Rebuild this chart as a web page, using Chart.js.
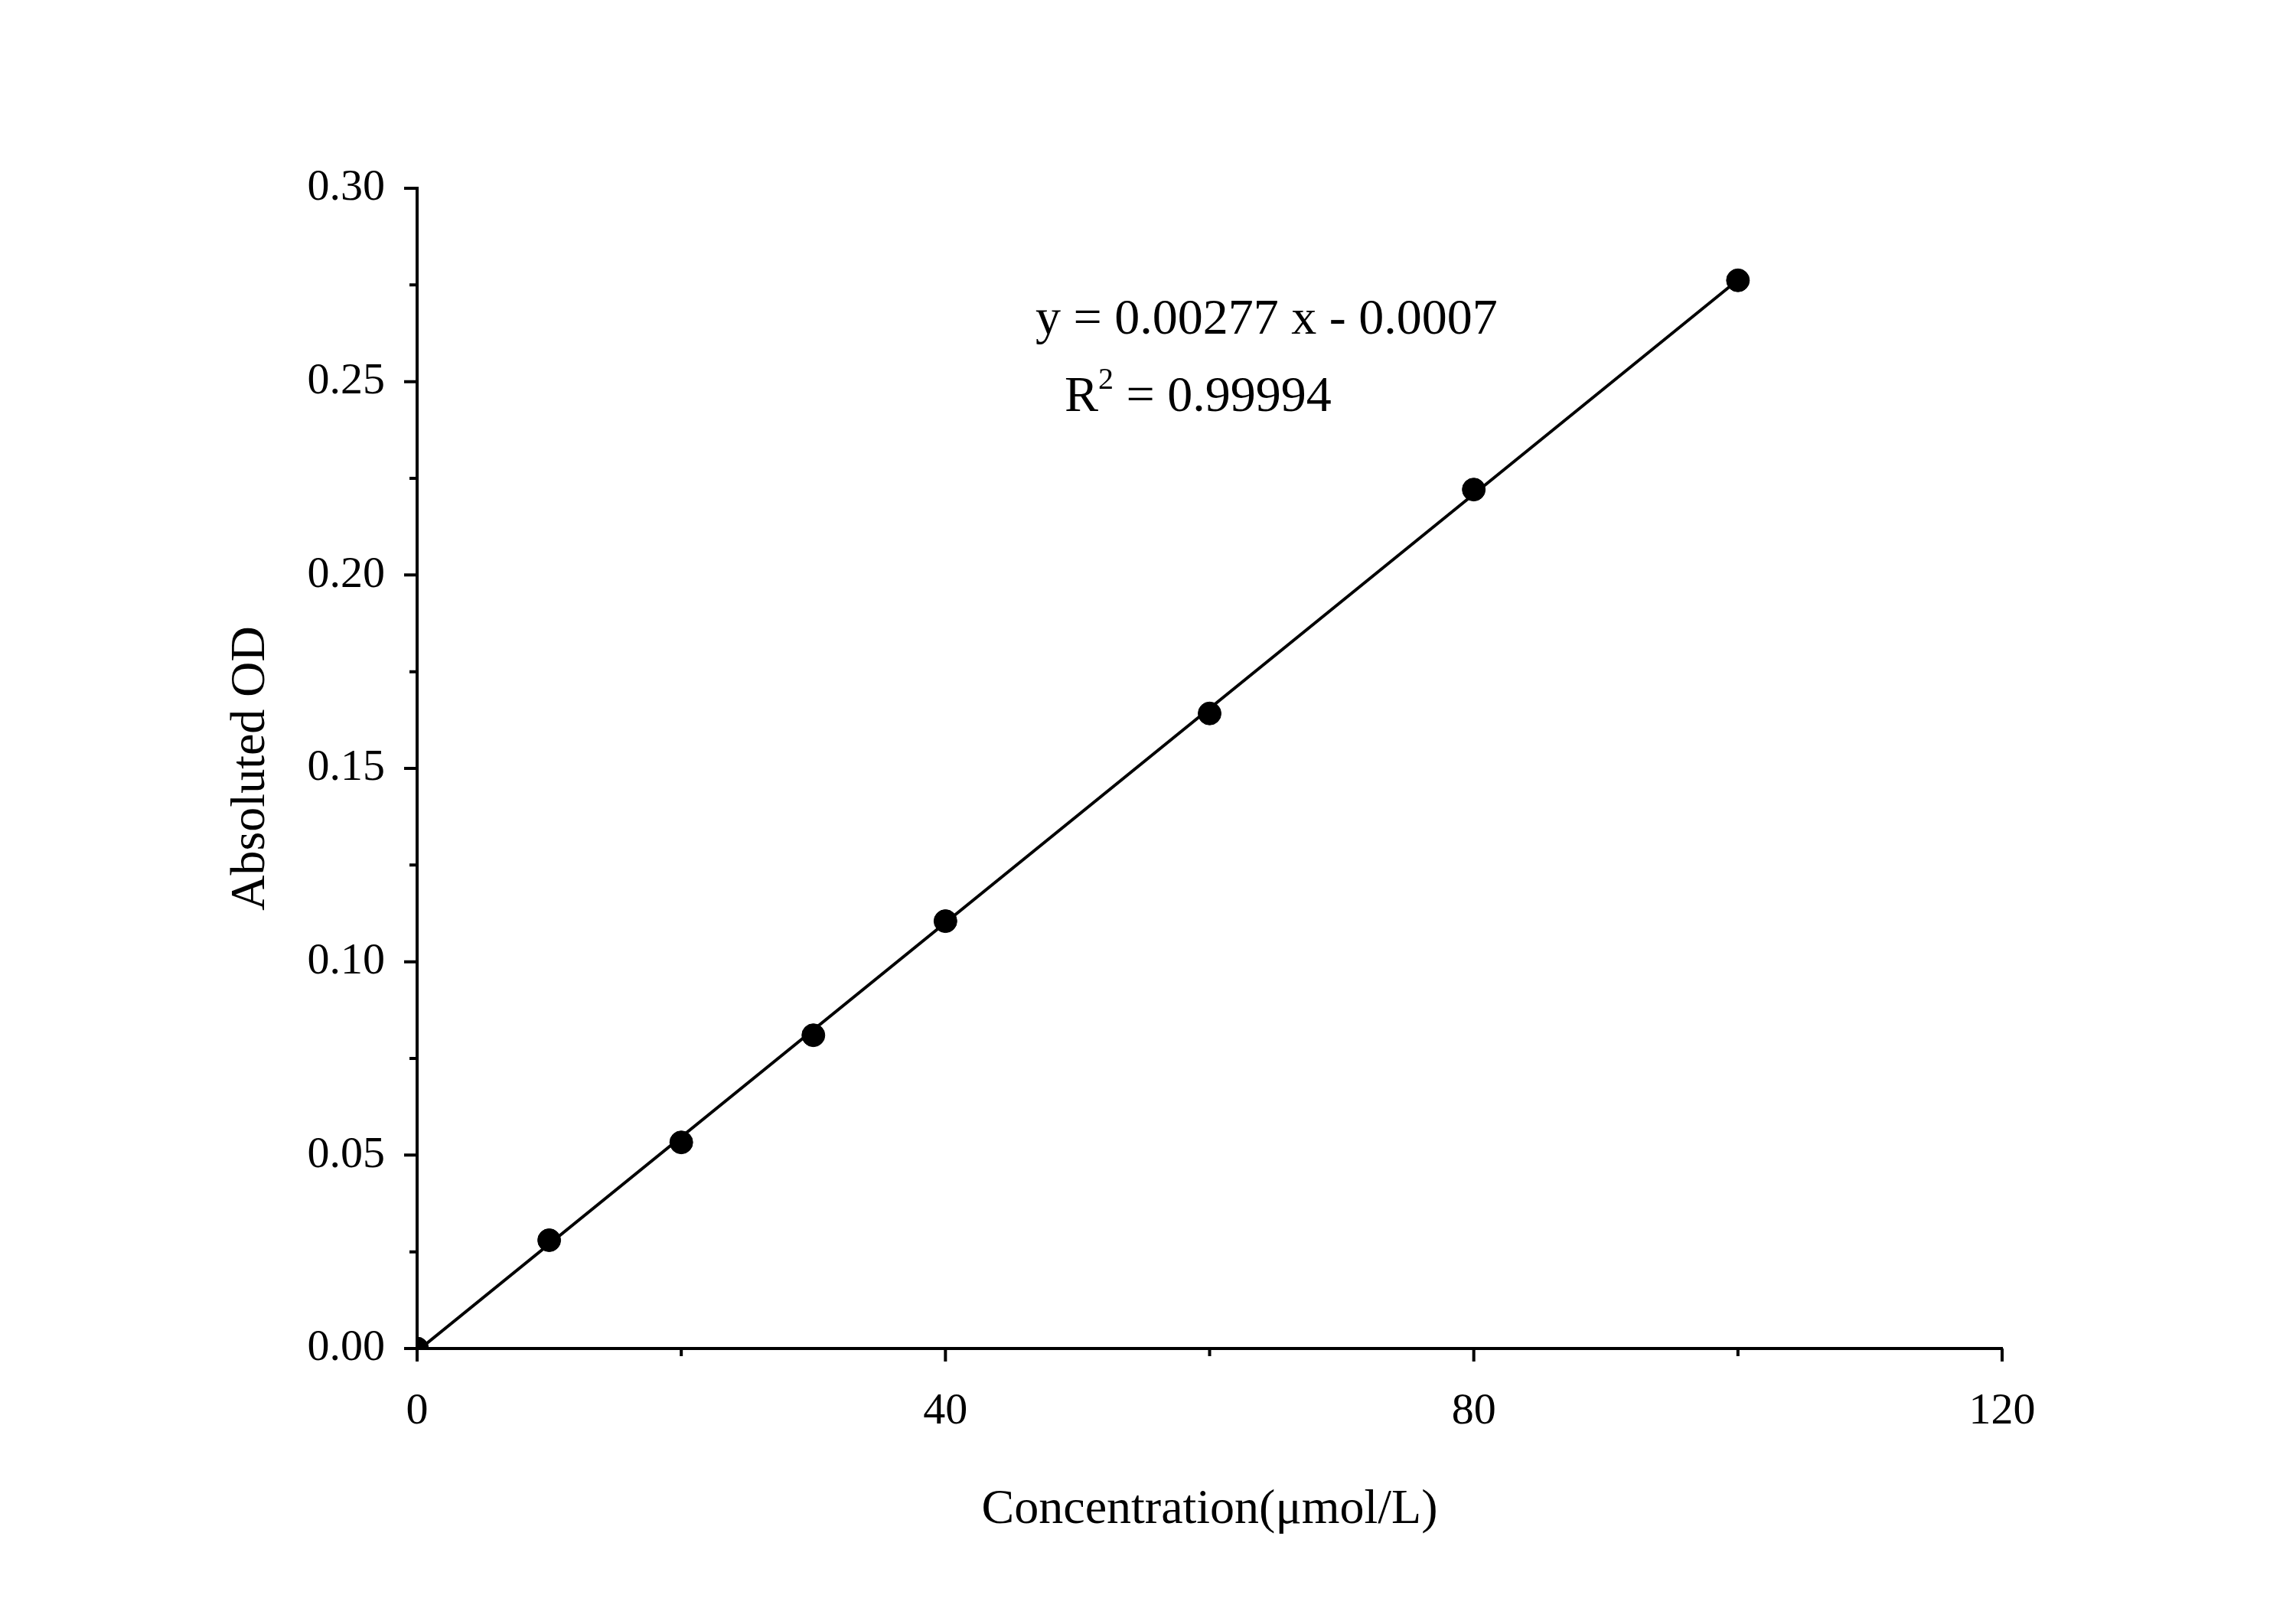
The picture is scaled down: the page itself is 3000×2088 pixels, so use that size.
<!DOCTYPE html>
<html><head><meta charset="utf-8">
<script src="https://cdn.jsdelivr.net/npm/chart.js@4/dist/chart.umd.min.js"></script>
<style>html,body{margin:0;padding:0;background:#fff}#w{width:3000px;height:2088px}</style>
</head><body><div id="w"><canvas id="c"></canvas></div>
<script>
const concentrations=[0,10,20,30,40,60,80,100];
const odValues=[0,0.028,0.0533,0.081,0.1105,0.1642,0.2221,0.2762];
const fitX=[0,100];
const fitY=[-0.0007,0.2763];
const xTicks=[0,40,80,120];
const xMinor=[20,60,100];
const yTicks=[0,0.05,0.10,0.15,0.20,0.25,0.30];
const yMinor=[0.025,0.075,0.125,0.175,0.225,0.275];
const F='"Liberation Serif", "Times New Roman", serif';
const deco={id:'deco',afterDraw(ch){
 const c=ch.ctx,x=ch.scales.x,y=ch.scales.y,a=ch.chartArea;
 c.save();c.strokeStyle='#000';c.lineWidth=4;
 c.beginPath();
 xTicks.forEach(v=>{const p=x.getPixelForValue(v);c.moveTo(p,a.bottom);c.lineTo(p,a.bottom+17);});
 xMinor.forEach(v=>{const p=x.getPixelForValue(v);c.moveTo(p,a.bottom);c.lineTo(p,a.bottom+10);});
 yTicks.forEach(v=>{const p=y.getPixelForValue(v);c.moveTo(a.left,p);c.lineTo(a.left-17,p);});
 yMinor.forEach(v=>{const p=y.getPixelForValue(v);c.moveTo(a.left,p);c.lineTo(a.left-10,p);});
 c.stroke();
 c.fillStyle='#000';c.font='64px '+F;c.textAlign='center';c.textBaseline='alphabetic';
 c.fillText('Concentration(μmol/L)',(a.left+a.right)/2,1990);
 c.save();c.translate(345,y.getPixelForValue(0.15));c.rotate(-Math.PI/2);c.fillText('Absoluted OD',0,0);c.restore();
 c.textAlign='left';c.font='66px '+F;
 c.fillText('y = 0.00277 x - 0.0007',1353,436);
 c.fillText('R',1391,537);let w=c.measureText('R').width;
 c.font='40px '+F;c.fillText('2',1391+w,508);let w2=c.measureText('2').width;
 c.font='66px '+F;c.fillText(' = 0.99994',1391+w+w2,537);
 c.restore();}};
new Chart(document.getElementById('c'),{
 type:'scatter',
 data:{datasets:[
  {data:concentrations.map((v,i)=>({x:v,y:odValues[i]})),backgroundColor:'#000',borderColor:'#000',pointRadius:15,pointHoverRadius:15},
  {type:'line',data:fitX.map((v,i)=>({x:v,y:fitY[i]})),borderColor:'#000',borderWidth:4,pointRadius:0,fill:false}
 ]},
 options:{responsive:true,maintainAspectRatio:false,animation:false,devicePixelRatio:1,
  layout:{padding:{left:0,right:384,top:246,bottom:0}},
  plugins:{legend:{display:false},tooltip:{enabled:false}},
  scales:{
   x:{type:'linear',min:0,max:120,afterFit(s){s.height=326;},
    afterBuildTicks(s){s.ticks=xTicks.map(v=>({value:v}));},
    grid:{display:false},border:{display:true,color:'#000',width:4},
    ticks:{padding:40,color:'#000',font:{family:F,size:58},maxRotation:0}},
   y:{type:'linear',min:0,max:0.30,afterFit(s){s.width=545;},
    afterBuildTicks(s){s.ticks=yTicks.map(v=>({value:v}));},
    grid:{display:false},border:{display:true,color:'#000',width:4},
    ticks:{padding:34,color:'#000',font:{family:F,size:58},callback:v=>v.toFixed(2)}}
  }},
 plugins:[deco]});
</script></body></html>
